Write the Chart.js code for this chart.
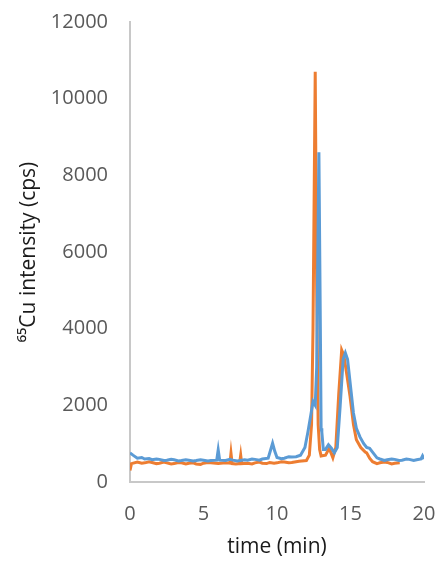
<!DOCTYPE html>
<html>
<head>
<meta charset="utf-8">
<script src="https://cdn.jsdelivr.net/npm/chart.js"></script>
<style>
  html, body { margin: 0; padding: 0; background: #fff; }
  #wrap { width: 440px; height: 564px; }
</style>
</head>
<body>
<div id="wrap"><canvas id="cuChart" width="440" height="564"></canvas></div>
<script>
// retention time (min) and 65Cu intensity (cps)
const blueTime = [0, 0.2, 0.5, 0.8, 1, 1.3, 1.5, 1.8, 2, 2.3, 2.5, 2.8, 3, 3.3, 3.5, 3.8, 4, 4.3, 4.5, 4.8, 5, 5.3, 5.5, 5.9, 6.0, 6.1, 6.5, 6.8, 7, 7.3, 7.5, 7.8, 8, 8.3, 8.5, 8.8, 9, 9.4, 9.6, 9.7, 9.85, 10, 10.3, 10.5, 10.8, 11, 11.3, 11.6, 11.9, 12.1, 12.3, 12.45, 12.6, 12.7, 12.85, 12.95, 13.0, 13.05, 13.15, 13.3, 13.5, 13.7, 13.9, 14.1, 14.3, 14.5, 14.65, 14.8, 15.0, 15.2, 15.4, 15.65, 15.9, 16.1, 16.3, 16.5, 16.8, 17, 17.3, 17.5, 17.8, 18, 18.3, 18.5, 18.8, 19, 19.3, 19.5, 19.8, 19.9, 20];
const blueCps = [760, 700, 620, 640, 600, 610, 580, 600, 590, 560, 570, 590, 580, 550, 560, 580, 570, 550, 560, 580, 570, 550, 560, 570, 840, 570, 560, 590, 570, 550, 560, 580, 570, 600, 590, 570, 600, 620, 880, 1010, 800, 640, 610, 620, 660, 650, 660, 700, 900, 1300, 1750, 2100, 2000, 3000, 8600, 4000, 1400, 1300, 850, 850, 970, 880, 760, 900, 2000, 3200, 3370, 3200, 2500, 1800, 1400, 1170, 1000, 900, 880, 780, 630, 600, 560, 580, 600, 590, 560, 570, 600, 590, 560, 580, 600, 680, 600];

const orangeTime = [0, 0.1, 0.5, 0.8, 1, 1.3, 1.5, 1.8, 2, 2.3, 2.5, 2.8, 3, 3.3, 3.5, 3.8, 4, 4.3, 4.5, 4.8, 5, 5.3, 5.5, 6, 6.5, 6.8, 6.87, 6.95, 7.2, 7.45, 7.53, 7.6, 8, 8.3, 8.5, 8.8, 9, 9.3, 9.5, 9.8, 10, 10.3, 10.5, 10.8, 11, 11.5, 12, 12.2, 12.35, 12.45, 12.6, 12.7, 12.8, 12.9, 13.0, 13.3, 13.55, 13.8, 14.0, 14.2, 14.4, 14.55, 14.75, 14.97, 15.2, 15.4, 15.7, 16.0, 16.1, 16.3, 16.5, 16.8, 17, 17.3, 17.5, 17.8, 18, 18.35];
const orangeCps = [300, 480, 520, 490, 500, 530, 510, 480, 490, 520, 500, 470, 480, 510, 500, 470, 490, 500, 470, 460, 490, 510, 500, 480, 500, 490, 750, 480, 470, 480, 700, 480, 490, 470, 500, 520, 490, 480, 510, 490, 500, 530, 520, 500, 510, 540, 560, 700, 1500, 4000, 10700, 5000, 1500, 850, 680, 700, 880, 630, 900, 2300, 3440, 3300, 2800, 2230, 1500, 1100, 900, 780, 760, 620, 530, 480, 500, 520, 510, 470, 490, 500];

const xTicks = [0, 5, 10, 15, 20];
const yTicks = [0, 2000, 4000, 6000, 8000, 10000, 12000];

function toPoints(times, values) {
  return times.map((t, i) => ({ x: t, y: values[i] }));
}

const tickFont = { family: 'Open Sans', size: 20 };
const titleFont = { family: 'Open Sans', size: 21 };

const ctx = document.getElementById('cuChart').getContext('2d');
new Chart(ctx, {
  type: 'line',
  data: {
    datasets: [
      {
        label: 'blue',
        data: toPoints(blueTime, blueCps),
        borderColor: '#5B9BD5',
        borderWidth: 3,
        pointRadius: 0,
        tension: 0
      },
      {
        label: 'orange',
        data: toPoints(orangeTime, orangeCps),
        borderColor: '#ED7D31',
        borderWidth: 3,
        pointRadius: 0,
        tension: 0
      }
    ]
  },
  options: {
    responsive: false,
    animation: false,
    layout: { padding: { top: 22, right: 16, left: 0, bottom: 0 } },
    plugins: {
      legend: { display: false },
      tooltip: { enabled: false }
    },
    scales: {
      x: {
        type: 'linear',
        min: xTicks[0],
        max: xTicks[xTicks.length - 1],
        afterBuildTicks: scale => { scale.ticks = xTicks.map(v => ({ value: v })); },
        afterFit: scale => {
          scale.height = 82;
          scale.paddingLeft = 0;
          scale.paddingRight = 0;
        },
        grid: { display: false, drawTicks: false },
        border: { color: '#c8c8c8', width: 2 },
        ticks: { color: '#595959', font: tickFont, padding: 20, maxRotation: 0, callback: v => String(v) },
        title: { display: true, text: 'time (min)', color: '#1a1a1a', font: titleFont, padding: { top: 10 } }
      },
      y: {
        min: yTicks[0],
        max: yTicks[yTicks.length - 1],
        afterBuildTicks: scale => { scale.ticks = yTicks.map(v => ({ value: v })); },
        afterFit: scale => {
          scale.width = 130;
          scale.paddingTop = 0;
          scale.paddingBottom = 0;
        },
        grid: { display: false, drawTicks: false },
        border: { color: '#c8c8c8', width: 2 },
        ticks: { color: '#595959', font: tickFont, padding: 22, callback: v => String(v) },
        title: { display: true, text: '⁶⁵Cu intensity (cps)', color: '#1a1a1a', font: titleFont, padding: { top: 16, bottom: 0 } }
      }
    }
  }
});
</script>
</body>
</html>
